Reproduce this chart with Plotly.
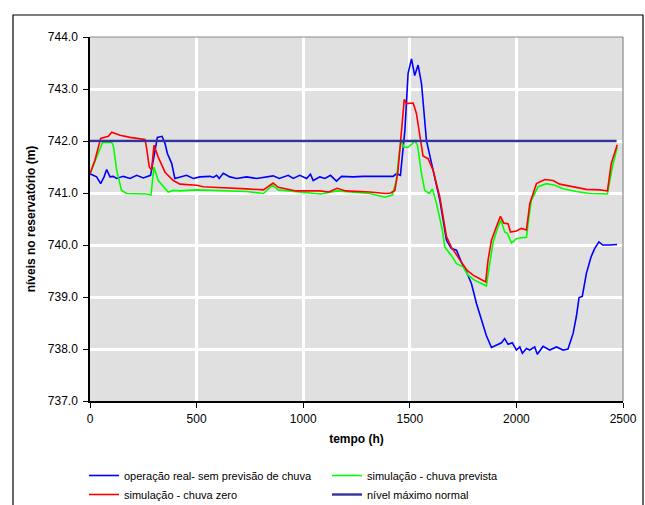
import plotly.graph_objects as go

# ---- data ----
blue_t = [0,31,50,66,78,94,109,125,156,188,219,250,284,300,316,338,352,363,383,398,
          422,453,484,516,563,578,594,606,625,656,688,734,781,828,859,888,930,953,984,1016,
          1034,1047,1078,1102,1128,1156,1180,1234,1281,1359,1422,1437,1456,1477,1492,1508,1523,1539,1555,1578,
          1602,1625,1641,1672,1695,1719,1742,1766,1789,1813,1836,1859,1883,1906,1930,1945,1961,1981,2000,2016,
          2028,2047,2063,2086,2098,2125,2156,2188,2219,2242,2266,2281,2294,2309,2328,2350,2367,2387,2405,2438,2472]
blue_v = [741.37,741.31,741.18,741.31,741.45,741.31,741.32,741.28,741.32,741.28,
          741.34,741.29,741.34,741.69,742.07,742.09,741.95,741.76,741.57,741.28,
          741.31,741.34,741.28,741.31,741.32,741.30,741.34,741.28,741.38,741.31,
          741.28,741.31,741.28,741.31,741.33,741.28,741.34,741.28,741.34,741.28,
          741.36,741.24,741.31,741.28,741.34,741.23,741.32,741.31,741.32,741.32,
          741.32,741.37,741.34,742.21,743.30,743.58,743.26,743.46,743.10,742.01,
          741.57,741.18,740.86,740.09,739.93,739.90,739.67,739.48,739.26,738.87,
          738.55,738.26,738.03,738.07,738.12,738.20,738.09,738.12,737.98,738.04,
          737.92,738.01,737.98,738.04,737.90,738.05,737.98,738.04,737.98,738.00,
          738.30,738.62,738.99,739.01,739.45,739.77,739.93,740.06,740.00,740.00,740.01]

red_t = [0,23,50,70,86,102,141,188,258,266,278,289,300,320,352,391,422,500,531,578,
         656,734,813,859,883,966,1078,1120,1159,1200,1312,1389,1410,1430,1445,1461,1474,1484,1516,1531,
         1550,1562,1586,1609,1641,1664,1672,1695,1719,1742,1769,1797,1828,1856,1867,1883,1906,1925,1941,1961,
         1972,2000,2023,2047,2063,2094,2133,2172,2203,2266,2328,2391,2427,2445,2473]
red_v = [741.37,741.63,742.05,742.08,742.09,742.17,742.11,742.07,742.03,741.85,
         741.50,741.44,741.92,741.69,741.40,741.24,741.17,741.15,741.12,741.11,
         741.10,741.08,741.06,741.19,741.11,741.04,741.04,741.02,741.09,741.04,
         741.02,740.99,741.00,741.05,741.44,742.21,742.80,742.72,742.73,742.53,
         742.01,741.71,741.66,741.44,740.92,740.30,740.16,739.96,739.80,739.67,
         739.51,739.42,739.35,739.29,739.71,740.09,740.35,740.55,740.42,740.41,
         740.25,740.27,740.32,740.29,740.80,741.18,741.26,741.24,741.17,741.12,
         741.07,741.06,741.04,741.57,741.93]

green_t = [0,31,59,102,109,125,148,172,266,286,300,320,344,367,391,422,500,609,734,813,
           856,883,1082,1159,1312,1383,1418,1437,1450,1461,1472,1492,1512,1523,1536,1555,1570,1591,1606,1625,
           1653,1664,1695,1719,1750,1773,1805,1836,1859,1875,1891,1914,1927,1945,1958,1977,2000,2023,2047,2059,
           2070,2102,2141,2180,2219,2281,2344,2427,2450,2473]
green_v = [741.37,741.69,741.97,741.97,741.92,741.44,741.05,740.99,740.98,740.96,
           741.50,741.24,741.12,741.02,741.05,741.04,741.06,741.05,741.03,740.99,
           741.15,741.06,740.98,741.04,740.99,740.92,740.96,741.24,741.76,742.01,
           741.88,741.88,741.95,742.01,741.92,741.37,741.05,740.99,741.08,740.80,
           740.28,739.96,739.80,739.64,739.58,739.42,739.32,739.26,739.21,739.64,
           740.06,740.35,740.48,740.25,740.22,740.04,740.12,740.14,740.15,740.54,
           740.86,741.12,741.18,741.15,741.08,741.03,740.99,740.98,741.50,741.88]

max_t = [0, 2470]
max_v = [742.0, 742.0]

names = ["operação real- sem previsão de chuva", "simulação - chuva prevista",
         "simulação - chuva zero", "nível máximo normal"]

x_ticks = [0, 500, 1000, 1500, 2000, 2500]
y_ticks = [737, 738, 739, 740, 741, 742, 743, 744]

FONT = "Arial, Liberation Sans, sans-serif"

fig = go.Figure()
fig.add_trace(go.Scatter(x=blue_t, y=blue_v, mode="lines", name=names[0],
                         line=dict(color="#0000ff", width=1.6)))
fig.add_trace(go.Scatter(x=green_t, y=green_v, mode="lines", name=names[1],
                         line=dict(color="#00ff00", width=1.6)))
fig.add_trace(go.Scatter(x=red_t, y=red_v, mode="lines", name=names[2],
                         line=dict(color="#ff0000", width=1.6)))
fig.add_trace(go.Scatter(x=max_t, y=max_v, mode="lines", name=names[3],
                         line=dict(color="#333399", width=2.4)))

L, R, T, B = 90, 22, 37, 104
W, H = 645, 505
pw, ph = W - L - R, H - T - B

def px(x):
    return (x - L) / pw

def py(y):
    return (H - B - y) / ph

fig.update_layout(
    width=W, height=H,
    margin=dict(l=L, r=R, t=T, b=B, autoexpand=False),
    paper_bgcolor="white",
    plot_bgcolor="#e0e0e0",
    font=dict(family=FONT, size=12, color="black"),
    showlegend=True,
    legend=dict(orientation="h", xref="container", yref="container",
                x=84 / W, y=1 - 461 / H, xanchor="left", yanchor="top",
                entrywidth=198, entrywidthmode="pixels",
                font=dict(family=FONT, size=11, color="black"),
                bgcolor="rgba(0,0,0,0)", itemwidth=30, tracegroupgap=0),
    xaxis=dict(range=[0, 2500], tickvals=x_ticks, ticktext=[str(v) for v in x_ticks],
               showgrid=True, gridcolor="white", gridwidth=2.5, zeroline=False,
               showline=True, linecolor="black", linewidth=1.5,
               ticks="outside", ticklen=5, tickcolor="black", tickwidth=1,
               tickfont=dict(family=FONT, size=12), ticklabelstandoff=1,
               title=dict(text="<b>tempo (h)</b>", font=dict(family=FONT, size=12), standoff=9),
               automargin=False),
    yaxis=dict(range=[737, 744], tickvals=y_ticks, ticktext=[f"{v:.1f}" for v in y_ticks],
               showgrid=True, gridcolor="white", gridwidth=2.5, zeroline=False,
               showline=True, linecolor="black", linewidth=1.5,
               ticks="outside", ticklen=5, tickcolor="black", tickwidth=1,
               tickfont=dict(family=FONT, size=12), ticklabelstandoff=3,
               title=dict(text="<b>níveis no reservatório (m)</b>", font=dict(family=FONT, size=12), standoff=10),
               automargin=False),
    shapes=[
        dict(type="rect", xref="paper", yref="paper", x0=px(13), x1=px(643), y0=py(520), y1=py(15),
             line=dict(color="black", width=1.2), fillcolor="rgba(0,0,0,0)", layer="above"),
        dict(type="line", xref="paper", yref="paper", x0=0, x1=1, y0=1, y1=1,
             line=dict(color="#8a8a8a", width=1.2), layer="above"),
        dict(type="line", xref="paper", yref="paper", x0=1, x1=1, y0=0, y1=1,
             line=dict(color="#8a8a8a", width=1.2), layer="above"),
    ],
)

fig.write_html("out.html")
